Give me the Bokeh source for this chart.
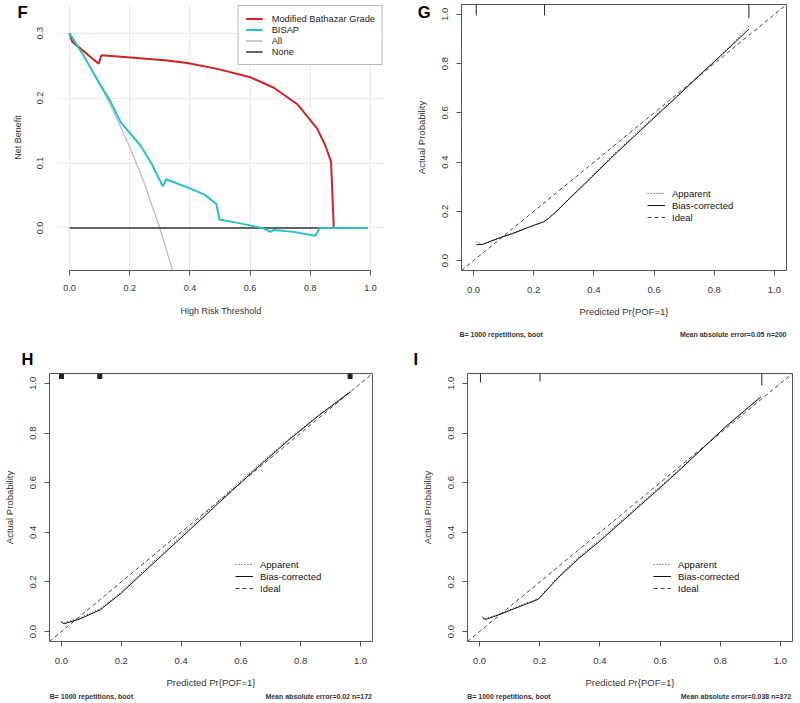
from bokeh.plotting import figure
from bokeh.layouts import column, row
from bokeh.models import (Legend, LegendItem, FixedTicker, LinearAxis,
                          Range1d, PrintfTickFormatter)
from bokeh.embed import file_html
from bokeh.resources import INLINE

FONT = "Liberation Sans"

# ---------------- data ----------------
# Panel F: decision curves (net benefit vs high-risk threshold)
mbg_thresh = [0.0, 0.009, 0.097, 0.106, 0.214, 0.324, 0.391, 0.491, 0.601,
              0.679, 0.756, 0.823, 0.850, 0.869, 0.878]
mbg_nb = [0.300, 0.287, 0.253, 0.266, 0.262, 0.258, 0.254, 0.245, 0.232,
          0.216, 0.191, 0.153, 0.127, 0.102, 0.0]
bisap_thresh = [0.0, 0.05, 0.10, 0.136, 0.17, 0.236, 0.275, 0.31, 0.321, 0.40,
                0.45, 0.488, 0.498, 0.546, 0.60, 0.646, 0.668, 0.679, 0.745,
                0.817, 0.831, 0.99]
bisap_nb = [0.300, 0.263, 0.222, 0.195, 0.163, 0.127, 0.097, 0.064, 0.075, 0.061,
            0.051, 0.037, 0.013, 0.009, 0.004, -0.001, -0.006, -0.003, -0.006,
            -0.012, 0.0, 0.0]
all_thresh = [0.0, 0.05, 0.10, 0.15, 0.20, 0.25, 0.30, 0.35]
all_nb = [0.300, 0.263, 0.222, 0.176, 0.125, 0.067, 0.0, -0.077]
none_thresh = [0.0, 0.99]
none_nb = [0.0, 0.0]
f_xticks = [0.0, 0.2, 0.4, 0.6, 0.8, 1.0]
f_yticks = [0.0, 0.1, 0.2, 0.3]
f_legend = ["Modified Bathazar Grade", "BISAP", "All", "None"]

# Panel G: calibration (n=200)
g_pred = [0.01, 0.03, 0.09, 0.13, 0.18, 0.234, 0.25, 0.28, 0.33, 0.40, 0.46,
          0.53, 0.60, 0.68, 0.74, 0.80, 0.86, 0.915]
g_apparent = [0.076, 0.067, 0.095, 0.111, 0.135, 0.159, 0.173, 0.207, 0.268,
              0.352, 0.425, 0.505, 0.585, 0.673, 0.742, 0.808, 0.880, 0.952]
g_biascorr = [0.065, 0.066, 0.094, 0.110, 0.134, 0.158, 0.172, 0.205, 0.265,
              0.348, 0.420, 0.500, 0.580, 0.670, 0.740, 0.808, 0.876, 0.940]
g_rug_x = [0.009, 0.236, 0.915]
g_rug_h = [0.044, 0.044, 0.056]
g_footer = ["B= 1000 repetitions, boot", "Mean absolute error=0.05 n=200"]

# Panel H: calibration (n=172)
h_pred = [0.0, 0.01, 0.06, 0.13, 0.20, 0.28, 0.40, 0.52, 0.64, 0.76, 0.86, 0.965]
h_apparent = [0.040, 0.036, 0.054, 0.093, 0.160, 0.252, 0.386, 0.520, 0.652,
              0.776, 0.872, 0.968]
h_biascorr = [0.037, 0.032, 0.050, 0.088, 0.155, 0.245, 0.378, 0.512, 0.645,
              0.772, 0.870, 0.965]
h_rug_x = [0.0, 0.128, 0.965]
h_rug_h = [0.022, 0.022, 0.022]
h_footer = ["B= 1000 repetitions, boot", "Mean absolute error=0.02 n=172"]

# Panel I: calibration (n=372)
i_pred = [0.01, 0.02, 0.07, 0.10, 0.195, 0.26, 0.33, 0.40, 0.47, 0.54, 0.61,
          0.68, 0.75, 0.82, 0.88, 0.935]
i_apparent = [0.060, 0.052, 0.072, 0.088, 0.133, 0.220, 0.300, 0.372, 0.446,
              0.520, 0.595, 0.672, 0.750, 0.826, 0.887, 0.955]
i_biascorr = [0.055, 0.049, 0.070, 0.085, 0.130, 0.215, 0.295, 0.365, 0.440,
              0.515, 0.590, 0.668, 0.748, 0.828, 0.890, 0.945]
i_rug_x = [0.003, 0.201, 0.938]
i_rug_h = [0.036, 0.032, 0.048]
i_footer = ["B= 1000 repetitions, boot", "Mean absolute error=0.038 n=372"]

cal_ticks = [0.0, 0.2, 0.4, 0.6, 0.8, 1.0]
cal_legend = ["Apparent", "Bias-corrected", "Ideal"]

# ---------------- helpers ----------------
W = 400


class Geo:
    """Frame box (in figure pixels) and data ranges of one panel."""

    def __init__(self, H, fl, fr, ft, fb, xr, yr):
        self.H, self.fl, self.fr, self.ft, self.fb = H, fl, fr, ft, fb
        self.xr, self.yr = xr, yr

    def x(self, px):
        return self.xr[0] + (px - self.fl) / (self.fr - self.fl) * (self.xr[1] - self.xr[0])

    def y(self, py):
        return self.yr[1] - (py - self.ft) / (self.fb - self.ft) * (self.yr[1] - self.yr[0])


def make_fig(g):
    p = figure(width=W, height=g.H,
               x_range=Range1d(*g.xr), y_range=Range1d(*g.yr),
               min_border_left=g.fl, min_border_right=W - g.fr,
               min_border_top=g.ft, min_border_bottom=g.H - g.fb,
               output_backend="svg", toolbar_location=None, tools="")
    p.background_fill_color = "white"
    p.border_fill_color = "white"
    return p


def style_axis(ax, ticks, font_size, title_size, tick_out, label_standoff,
               title_standoff, vertical=False, color="#333333"):
    ax.ticker = FixedTicker(ticks=ticks)
    ax.formatter = PrintfTickFormatter(format="%.1f")
    ax.minor_tick_line_color = None
    ax.major_tick_in = 0
    ax.major_tick_out = tick_out
    ax.major_label_standoff = label_standoff
    ax.major_label_text_font = FONT
    ax.major_label_text_font_size = font_size
    ax.major_label_text_color = color
    ax.axis_label_text_font = FONT
    ax.axis_label_text_font_size = title_size
    ax.axis_label_text_font_style = "normal"
    ax.axis_label_text_color = color
    ax.axis_label_standoff = title_standoff
    if vertical:
        ax.major_label_orientation = "vertical"


def bare_axis(ticks, labels, size, style, color, standoff, orientation):
    ax = LinearAxis(ticker=FixedTicker(ticks=ticks),
                    major_label_overrides=dict(zip(ticks, labels)))
    ax.axis_line_color = None
    ax.major_tick_line_color = None
    ax.minor_tick_line_color = None
    ax.major_tick_in = 0
    ax.major_tick_out = 0
    ax.major_label_standoff = standoff
    ax.major_label_orientation = orientation
    ax.major_label_text_font = FONT
    ax.major_label_text_font_size = size
    ax.major_label_text_font_style = style
    ax.major_label_text_color = color
    return ax


def letter_left(p, g, text, py, standoff):
    cy = round(g.y(py), 5)
    p.add_layout(bare_axis([cy], [text], "16.5px", "bold", "black", standoff,
                           "horizontal"), "left")


def letter_above(p, text, offset, standoff):
    p.title.text = text
    p.title.align = "left"
    p.title.offset = offset
    p.title.standoff = standoff
    p.title.text_font = FONT
    p.title.text_font_size = "16.5px"
    p.title.text_font_style = "bold"
    p.title.text_color = "black"


def footer(p, g, texts, left_px, left_w, right_px, right_w, standoff):
    cl = round(g.x(left_px + left_w / 2.0), 5)
    cr = round(g.x(right_px - right_w / 2.0), 5)
    p.add_layout(bare_axis([cl, cr], texts, "7px", "bold", "#333333", standoff,
                           "horizontal"), "below")


# ---------------- Panel F ----------------
gF = Geo(340, 57, 384, 4, 273,
         ((57 - 69) / 301.0, (384 - 69) / 301.0),
         (-(273 - 230) / 656.7, (230 - 4) / 656.7))
pF = make_fig(gF)
pF.outline_line_color = None
pF.xgrid.grid_line_color = "#ebebeb"
pF.ygrid.grid_line_color = "#ebebeb"

r_all = pF.line(all_thresh, all_nb, line_color="#bdbdbd", line_width=1.3)
r_none = pF.line(none_thresh, none_nb, line_color="#333333", line_width=1.3)
r_mbg = pF.line(mbg_thresh, mbg_nb, line_color="#d02226", line_width=2)
r_bis = pF.line(bisap_thresh, bisap_nb, line_color="#26c0c6", line_width=2)

xa = pF.xaxis[0]
style_axis(xa, f_xticks, "9px", "9px", 5, 9, 12)
xa.axis_label = "High Risk Threshold"
xa.bounds = (0, 1)
xa.axis_line_color = "#555555"
xa.major_tick_line_color = "#555555"
ya = pF.yaxis[0]
style_axis(ya, f_yticks, "9px", "9px", 0, 14, 12, vertical=True)
ya.axis_label = "Net Benefit"
ya.axis_line_color = None
ya.major_tick_line_color = None

legF = Legend(items=[LegendItem(label=f_legend[0], renderers=[r_mbg]),
                     LegendItem(label=f_legend[1], renderers=[r_bis]),
                     LegendItem(label=f_legend[2], renderers=[r_all]),
                     LegendItem(label=f_legend[3], renderers=[r_none])],
              location="top_right", margin=1, padding=7, spacing=0,
              glyph_width=17, glyph_height=11, label_height=11,
              label_standoff=9, label_text_font=FONT,
              label_text_font_size="9.3px", label_text_color="#222222",
              border_line_color="#777777", border_line_width=1,
              background_fill_color="white", background_fill_alpha=1)
pF.add_layout(legF)
letter_left(pF, gF, "F", 11.5, -18)


# ---------------- calibration panels ----------------
def calib(g, pred, apparent, biascorr, rug_x, rug_h, rug_w):
    p = make_fig(g)
    p.outline_line_color = "#555555"
    p.outline_line_width = 1
    p.xgrid.grid_line_color = None
    p.ygrid.grid_line_color = None

    r_ideal = p.line(list(g.xr), list(g.yr), line_color="#444444",
                     line_width=1, line_dash="4 3")
    r_app = p.line(pred, apparent, line_color="#333333", line_width=1,
                   line_dash="1 2")
    r_bc = p.line(pred, biascorr, line_color="#111111", line_width=1)

    top = g.yr[1]
    p.segment(x0=rug_x, y0=[top] * len(rug_x), x1=rug_x,
              y1=[top - h for h in rug_h], line_color="#222222",
              line_width=rug_w, line_cap="butt")

    xa = p.xaxis[0]
    style_axis(xa, cal_ticks, "9.5px", "9.5px", 5, 11, 10)
    xa.axis_label = "Predicted Pr{POF=1}"
    xa.axis_line_color = None
    xa.major_tick_line_color = "#555555"
    ya = p.yaxis[0]
    style_axis(ya, cal_ticks, "9.5px", "9.5px", 5, 8, 13, vertical=True)
    ya.axis_label = "Actual Probability"
    ya.axis_line_color = None
    ya.major_tick_line_color = "#555555"

    leg = Legend(items=[LegendItem(label=cal_legend[0], renderers=[r_app]),
                        LegendItem(label=cal_legend[1], renderers=[r_bc]),
                        LegendItem(label=cal_legend[2], renderers=[r_ideal])],
                 location=(186, 47), margin=0, padding=0, spacing=0,
                 glyph_width=18, glyph_height=12, label_height=12,
                 label_standoff=7, label_text_font=FONT,
                 label_text_font_size="9.5px", label_text_color="#111111",
                 border_line_color=None, background_fill_alpha=0)
    p.add_layout(leg)
    return p


gG = Geo(340, 61, 386, 4, 274, (-0.04, 1.04), (-0.04, 1.04))
pG = calib(gG, g_pred, g_apparent, g_biascorr, g_rug_x, g_rug_h, 1)
footer(pG, gG, g_footer, 59, 83.4, 386, 106.6, 11)
letter_left(pG, gG, "G", 11.5, -18)

gH = Geo(363, 46, 372, 33, 304, (-0.04, 1.04), (-0.04, 1.04))
pH = calib(gH, h_pred, h_apparent, h_biascorr, h_rug_x, h_rug_h, 5)
footer(pH, gH, h_footer, 46.7, 83.4, 371, 106.6, 2)
letter_above(pH, "H", -28, 12)

gI = Geo(363, 67, 392, 33, 301, (-0.04, 1.04), (-0.04, 1.04))
pI = calib(gI, i_pred, i_apparent, i_biascorr, i_rug_x, i_rug_h, 1)
footer(pI, gI, i_footer, 66.7, 83.4, 390.7, 110.5, 2)
letter_above(pI, "I", -54, 12)

layout = column(row(pF, pG), row(pH, pI))
open("out.html", "w").write(file_html(layout, INLINE))
